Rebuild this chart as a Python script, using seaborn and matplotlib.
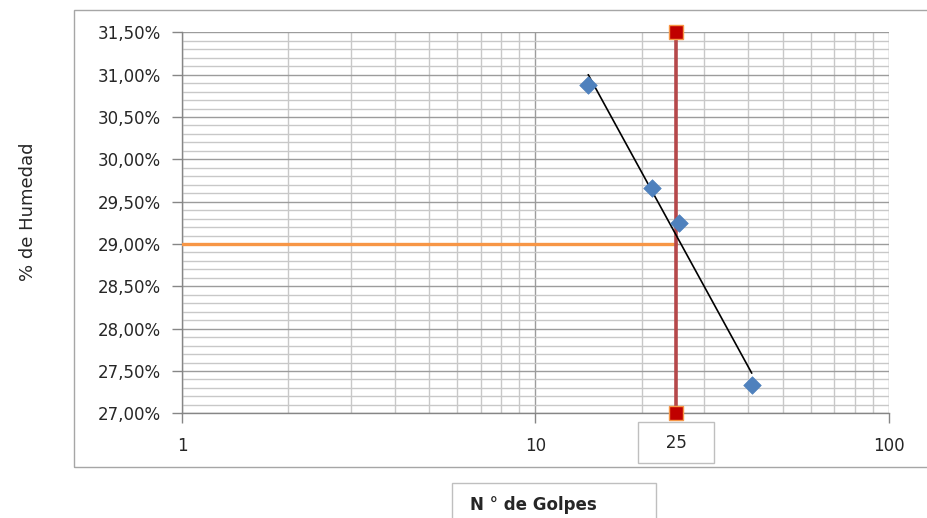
import numpy as np
import pandas as pd
import matplotlib
matplotlib.use("Agg")
import matplotlib.pyplot as plt
from matplotlib.ticker import FuncFormatter, LogLocator, MultipleLocator
from matplotlib.patches import Rectangle
from matplotlib.transforms import blended_transform_factory
import seaborn as sns

# ensayo de limite liquido (Casagrande)
golpes = [14.1, 21.4, 25.5, 40.9]
humedad = [30.88, 29.66, 29.25, 27.34]

# lineas de lectura del limite liquido
ref_golpes = [25, 25]
ref_humedad = [27.0, 31.5]
ll_golpes = [1, 25]
ll_humedad = [29.0, 29.0]

x_ticks = [1, 10, 100]
y_ticks = [27.0, 27.5, 28.0, 28.5, 29.0, 29.5, 30.0, 30.5, 31.0, 31.5]

sns.set_theme(style="white")
plt.rcParams["font.family"] = ["DejaVu Sans"]

fig = plt.figure(figsize=(9.27, 5.18), dpi=100)
ax = fig.add_axes([0.1963, 0.2021, 0.7627, 0.7355])
ax.set_xscale("log")

df = pd.DataFrame({"golpes": golpes, "humedad": humedad})

sns.lineplot(x=ll_golpes, y=ll_humedad, ax=ax, color="#f79646", lw=2.4,
             estimator=None, sort=False, zorder=3)
sns.lineplot(x=ref_golpes, y=ref_humedad, ax=ax, color="#b5484a", lw=2.6,
             estimator=None, sort=False, marker="s", markersize=10.5,
             markerfacecolor="#c00000", markeredgecolor="#f79646",
             markeredgewidth=1.0, clip_on=False, zorder=4)
sns.regplot(data=df, x="golpes", y="humedad", ax=ax, logx=True, ci=None,
            scatter=False, line_kws={"color": "black", "lw": 1.2, "zorder": 5})
sns.scatterplot(data=df, x="golpes", y="humedad", ax=ax, marker="D", s=80,
                color="#4f81bd", edgecolor="#4f81bd", linewidth=0.5, zorder=6)

ax.set_xlim(1, 100)
ax.set_ylim(27.0, 31.5)
ax.set_xticks(x_ticks)
ax.xaxis.set_minor_locator(LogLocator(base=10, subs=np.arange(2, 10)))
ax.xaxis.set_major_formatter(FuncFormatter(lambda v, p: f"{v:g}"))
ax.xaxis.set_minor_formatter(FuncFormatter(lambda v, p: ""))
ax.set_yticks(y_ticks)
ax.yaxis.set_minor_locator(MultipleLocator(0.1))
ax.yaxis.set_major_formatter(FuncFormatter(lambda v, p: f"{v:.2f}%".replace(".", ",")))

ax.set_axisbelow(True)
ax.grid(which="major", color="#9c9c9c", lw=1.0)
ax.grid(which="minor", color="#c8c8c8", lw=1.0)
ax.tick_params(which="major", length=7, width=1, color="#868686",
               labelsize=12, labelcolor="#262626", left=True, bottom=True)
ax.tick_params(axis="y", which="major", pad=8)
ax.tick_params(axis="x", which="major", pad=10)
ax.tick_params(which="minor", length=0)
for side in ["top", "right"]:
    ax.spines[side].set_visible(False)
for side in ["left", "bottom"]:
    ax.spines[side].set_color("#868686")
    ax.spines[side].set_linewidth(1.0)
ax.set_xlabel("")
ax.set_ylabel("")

# etiqueta de 25 golpes en recuadro
trans = blended_transform_factory(ax.transData, ax.transAxes)
ax.text(25, -0.077, "   25   ", transform=trans, ha="center", va="center",
        fontsize=12, color="#262626", clip_on=False,
        bbox=dict(boxstyle="square,pad=0.7", fc="white", ec="#bfbfbf", lw=1))

# marco del grafico
fig.add_artist(Rectangle((74 / 927, 1 - 467 / 518), (935 - 74) / 927, 457 / 518,
                         transform=fig.transFigure, fill=False,
                         ec="#a6a6a6", lw=1.0))

fig.text(28 / 927, 1 - 212 / 518, "% de Humedad", rotation=90,
         ha="center", va="center", fontsize=13, color="#262626")

fig.add_artist(Rectangle((452 / 927, -0.02), 204 / 927, 0.02 + 35 / 518,
                         transform=fig.transFigure, fill=False,
                         ec="#bfbfbf", lw=1.0))
fig.text(470 / 927, 1 - 505 / 518, "N ° de Golpes", ha="left", va="center",
         fontsize=12, fontweight="bold", color="#262626")

fig.savefig("out.png", dpi=100)
plt.close(fig)
